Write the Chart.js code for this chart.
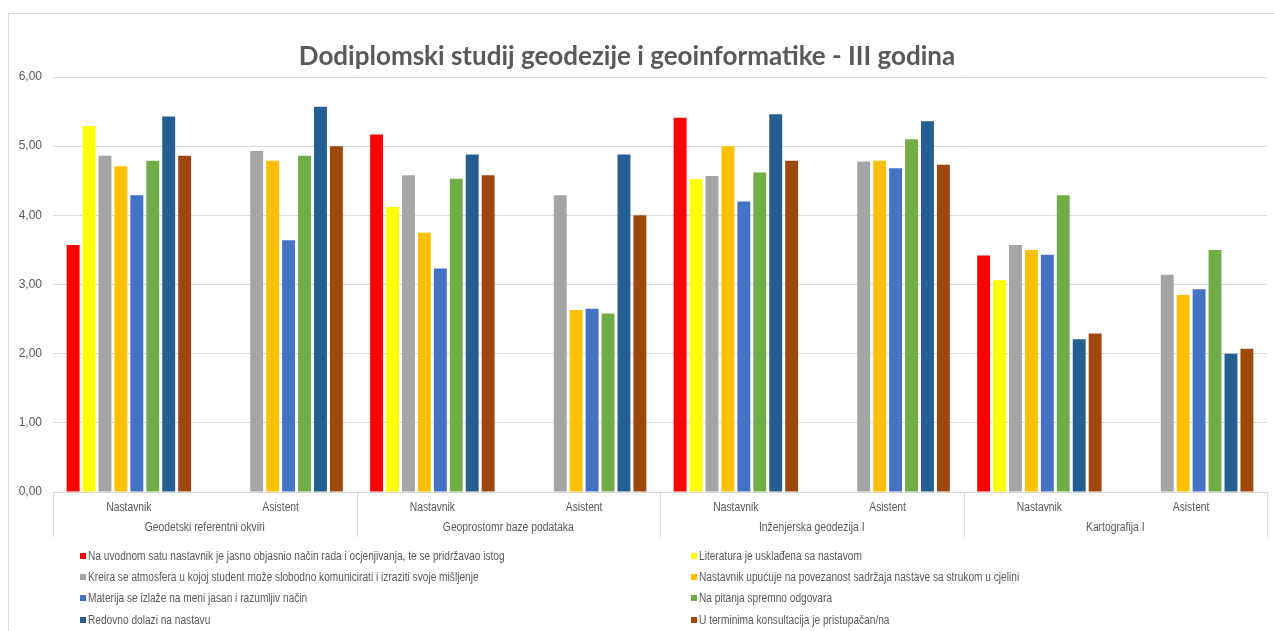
<!DOCTYPE html>
<html>
<head>
<meta charset="utf-8">
<script src="https://cdn.jsdelivr.net/npm/chart.js@4.4.1/dist/chart.umd.min.js"></script>
<style>
  html, body { margin:0; padding:0; background:#fff; overflow:hidden; }
  #wrap { position:absolute; left:0; top:0; width:1274px; height:631px; }
  #frame { position:absolute; left:8px; top:13px; width:1400px; height:800px; border:1px solid #d9d9d9; box-sizing:border-box; }
  #cv { position:absolute; left:0; top:0; }
  #title { position:absolute; left:0; width:1254px; top:39px; height:32px; line-height:32px; text-align:center; color:#595959; font-family:Lato, 'Open Sans', sans-serif; font-weight:bold; font-size:26px; white-space:nowrap; }
  #legend { position:absolute; left:80px; top:545px; display:grid; grid-template-columns:611px 560px; grid-auto-rows:21.4px; color:#595959; white-space:nowrap; font-family:'Liberation Sans', Arial, sans-serif; font-size:12px; }
  #legend .it { display:flex; align-items:center; }
  #legend .sw { width:6px; height:6px; margin-right:2px; flex:none; }
  #legend .tx { display:inline-block; transform:scaleX(0.845); transform-origin:0 50%; }
</style>
</head>
<body>
<div id="wrap">
  <div id="frame"></div>
  <canvas id="cv" width="1274" height="631"></canvas>
  <div id="title"></div>
  <div id="legend"></div>
</div>
<script>
const chartTitle = 'Dodiplomski studij geodezije i geoinformatike - III godina';
const categories = ['Nastavnik','Asistent','Nastavnik','Asistent','Nastavnik','Asistent','Nastavnik','Asistent'];
const groups = ['Geodetski referentni okviri','Geoprostomr baze podataka','Inženjerska geodezija I','Kartografija I'];
const seriesNames = [
  'Na uvodnom satu nastavnik je jasno objasnio način rada i ocjenjivanja, te se pridržavao istog',
  'Literatura je usklađena sa nastavom',
  'Kreira se atmosfera u kojoj student može slobodno komunicirati i izraziti svoje mišljenje',
  'Nastavnik upućuje na povezanost sadržaja nastave sa strukom u cjelini',
  'Materija se izlaže na meni jasan i razumljiv način',
  'Na pitanja spremno odgovara',
  'Redovno dolazi na nastavu',
  'U terminima konsultacija je pristupačan/na'
];
const seriesColors = ['#FF0000','#FFFF00','#A5A5A5','#FFC000','#4472C4','#70AD47','#255E91','#9E480E'];
const uvodniSat    = [3.57, null, 5.17, null, 5.41, null, 3.42, null];
const literatura   = [5.29, null, 4.12, null, 4.52, null, 3.06, null];
const atmosfera    = [4.86, 4.93, 4.58, 4.29, 4.57, 4.78, 3.57, 3.14];
const povezanost   = [4.71, 4.79, 3.75, 2.63, 5.00, 4.79, 3.50, 2.85];
const materija     = [4.29, 3.64, 3.23, 2.65, 4.20, 4.68, 3.43, 2.93];
const pitanja      = [4.79, 4.86, 4.53, 2.58, 4.62, 5.10, 4.29, 3.50];
const dolazi       = [5.43, 5.57, 4.88, 4.88, 5.46, 5.36, 2.21, 2.00];
const konsultacije = [4.86, 5.00, 4.58, 4.00, 4.79, 4.73, 2.29, 2.07];
const seriesValues = [uvodniSat, literatura, atmosfera, povezanost, materija, pitanja, dolazi, konsultacije];
const yTicks = [0, 1, 2, 3, 4, 5, 6];

document.getElementById('title').textContent = chartTitle;

// legend (HTML)
const lg = document.getElementById('legend');
seriesNames.forEach((n, i) => {
  const d = document.createElement('div'); d.className = 'it';
  const s = document.createElement('span'); s.className = 'sw'; s.style.background = seriesColors[i];
  const t = document.createElement('span'); t.className = 'tx'; t.textContent = n;
  d.appendChild(s); d.appendChild(t); lg.appendChild(d);
});

// two-level category axis: labels + group separators drawn from the x scale
const categoryAxis = {
  id: 'categoryAxis',
  afterDraw(chart) {
    const xs = chart.scales.x, ca = chart.chartArea, ctx = chart.ctx;
    const per = categories.length / groups.length;
    const step = xs.width / categories.length;
    ctx.save();
    ctx.strokeStyle = '#d9d9d9'; ctx.lineWidth = 1;
    for (let i = 0; i <= groups.length; i++) {
      const x = Math.round(xs.left + i * per * step) + 0.5;
      ctx.beginPath(); ctx.moveTo(x, ca.bottom); ctx.lineTo(x, ca.bottom + 45); ctx.stroke();
    }
    ctx.fillStyle = '#595959';
    ctx.font = "12px 'Liberation Sans', Arial, sans-serif";
    ctx.textAlign = 'center'; ctx.textBaseline = 'middle';
    const drawText = (t, x, y) => {
      ctx.save(); ctx.translate(x, y); ctx.scale(0.86, 1); ctx.fillText(t, 0, 0); ctx.restore();
    };
    categories.forEach((c, i) => drawText(c, xs.getPixelForValue(i), ca.bottom + 15.5));
    groups.forEach((g, j) => {
      const x = (xs.getPixelForValue(j * per) + xs.getPixelForValue(j * per + per - 1)) / 2;
      drawText(g, x, ca.bottom + 35.5);
    });
    ctx.restore();
  }
};

new Chart(document.getElementById('cv'), {
  type: 'bar',
  data: {
    labels: categories,
    datasets: seriesNames.map((n, i) => ({
      label: n,
      data: seriesValues[i],
      backgroundColor: seriesColors[i],
      borderWidth: 0,
      categoryPercentage: 0.84,
      barPercentage: 0.81
    }))
  },
  options: {
    responsive: false,
    animation: false,
    layout: { padding: { left: 8, right: 7, top: 77, bottom: 131 } },
    plugins: {
      legend: { display: false },
      tooltip: { enabled: false },
      title: { display: false }
    },
    scales: {
      y: {
        min: 0, max: 6,
        afterBuildTicks(s) { s.ticks = yTicks.map(v => ({ value: v })); },
        afterFit(s) { s.width = 45; },
        ticks: {
          padding: 11,
          color: '#595959',
          font: { family: "'Liberation Sans', Arial, sans-serif", size: 12 },
          callback: v => v.toFixed(2).replace('.', ',')
        },
        grid: { color: '#d9d9d9', drawTicks: false },
        border: { display: false }
      },
      x: {
        grid: { display: false },
        border: { display: false },
        ticks: { display: false }
      }
    }
  },
  plugins: [categoryAxis]
});
</script>
</body>
</html>
